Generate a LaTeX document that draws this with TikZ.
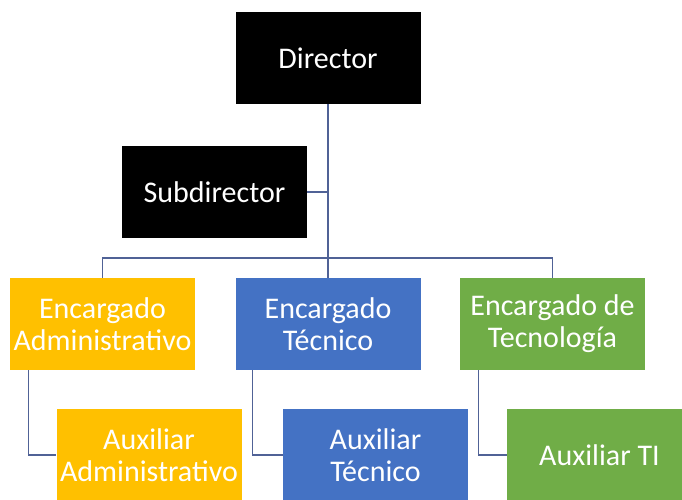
\documentclass[tikz,border=0pt]{standalone}
\usepackage{fontspec}
\setmainfont{Carlito}
\definecolor{orgorange}{HTML}{FFC000}
\definecolor{orgblue}{HTML}{4472C4}
\definecolor{orggreen}{HTML}{70AD47}
\definecolor{orgline}{RGB}{80,98,150}
\tikzset{
  box/.style={rectangle, minimum width=185pt, minimum height=92pt, inner sep=2pt,
    text=white, align=center, font=\fontsize{30}{32}\selectfont},
  blackbox/.style={box, fill=black},
  orangebox/.style={box, fill=orgorange},
  bluebox/.style={box, fill=orgblue},
  greenbox/.style={box, fill=orggreen},
  link/.style={draw=orgline, line width=1.3pt}
}
\begin{document}
\begin{tikzpicture}[x=1pt,y=-1pt]
\clip (0,0) rectangle (682,500);
\fill[white] (0,0) rectangle (682,500);
\node[blackbox] (dir) at (328,58) {Director};
\node[blackbox] (sub) at (214.5,192) {Subdirector};
\node[orangebox] (ea) at (102.5,324) {Encargado\\Administrativo};
\node[bluebox] (et) at (328,324) {Encargado\\Técnico};
\node[greenbox] (eg) at (552.5,324) {Encargado de\\Tecnología};
\node[orangebox] (aa) at (149,455) {Auxiliar\\Administrativo};
\node[bluebox] (at) at (375.5,455) {Auxiliar\\Técnico};
\node[greenbox] (ati) at (599.5,455) {Auxiliar TI};
\coordinate (bar) at (328,258);
\draw[link] (dir.south) -- (et.north);
\draw[link] (sub.east) -- (sub.east -| dir.south);
\draw[link] (ea.north) |- (bar) -| (eg.north);
\draw[link] ([xshift=19pt]ea.south west) |- (aa.west);
\draw[link] ([xshift=17pt]et.south west) |- (at.west);
\draw[link] ([xshift=19pt]eg.south west) |- (ati.west);
\end{tikzpicture}
\end{document}
